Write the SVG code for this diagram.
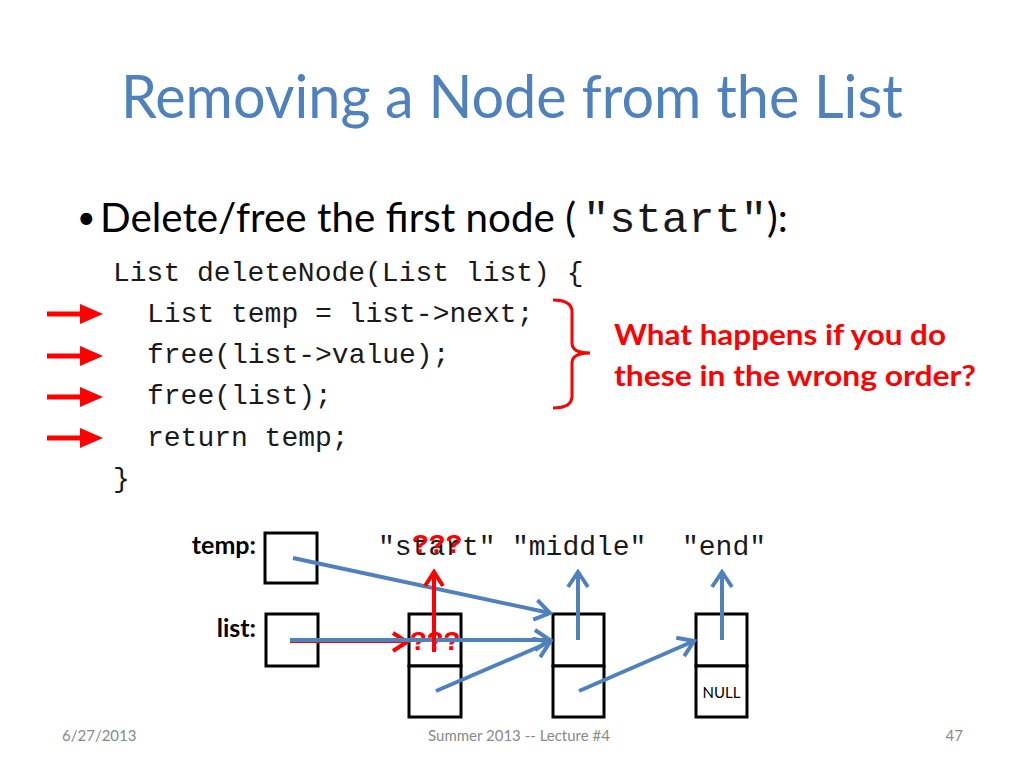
<svg xmlns="http://www.w3.org/2000/svg" width="1024" height="768" viewBox="0 0 1024 768">
<style>
.title{font-family:Lato,"Open Sans","Liberation Sans",sans-serif;font-size:60px;fill:#4F81BD}
.body{font-family:Lato,"Open Sans","Liberation Sans",sans-serif;font-size:40px;fill:#000}
.mono{font-family:"Liberation Mono","Courier New",monospace;fill:#1a1a1a}
.code{font-size:28px}
.red{font-family:Lato,"Open Sans","Liberation Sans",sans-serif;font-weight:bold;font-size:29px;fill:#FF0000}
.lbl{font-family:Lato,"Open Sans","Liberation Sans",sans-serif;font-weight:bold;font-size:25px;fill:#000}
.foot{font-family:Lato,"Open Sans","Liberation Sans",sans-serif;font-size:15px;fill:#898989}
.box{fill:#fff;stroke:#000;stroke-width:3}
.blue{stroke:#4F81BD;stroke-width:4;fill:none}
.rl{stroke:#FF0000;fill:none}
.q{font-family:"Liberation Mono","Courier New",monospace;font-weight:bold;font-size:28px;fill:#FF0000}
</style>
<defs>
<marker id="ab" markerUnits="userSpaceOnUse" markerWidth="40" markerHeight="40" viewBox="-20 -20 40 40" refX="0" refY="0" orient="auto" overflow="visible">
<path d="M-15,-10 L0,0 L-15,10" fill="none" stroke="#4F81BD" stroke-width="4"/>
</marker>
<marker id="ar" markerUnits="userSpaceOnUse" markerWidth="40" markerHeight="40" viewBox="-20 -20 40 40" refX="0" refY="0" orient="auto" overflow="visible">
<path d="M-14,-9 L0,0 L-14,9" fill="none" stroke="#FF0000" stroke-width="4"/>
</marker>
<path id="redArrowShape" d="M0,-2.5 L33,-2.5 L33,-10 L56,0 L33,10 L33,2.5 L0,2.5 Z"/>
</defs>
<rect width="1024" height="768" fill="#fff"/>

<g id="title">
<text class="title" x="512" y="118" text-anchor="middle" textLength="782" lengthAdjust="spacingAndGlyphs">Removing a Node from the List</text>
</g>

<g id="bullet">
<text x="77" y="229" font-family="Lato,'Open Sans','Liberation Sans',sans-serif" font-size="32" fill="#000">•</text>
<text class="body" x="100" y="232" textLength="476" lengthAdjust="spacingAndGlyphs">Delete/free the first node (</text>
<text class="mono" x="583" y="232" font-size="42" textLength="184" lengthAdjust="spacingAndGlyphs">"start"</text>
<text class="body" x="767" y="232">):</text>
</g>

<g id="code">
<text class="mono code" x="113" y="281">List deleteNode(List list) {</text>
<text class="mono code" x="147" y="322">List temp = list-&gt;next;</text>
<text class="mono code" x="147" y="363">free(list-&gt;value);</text>
<text class="mono code" x="147" y="404">free(list);</text>
<text class="mono code" x="147" y="446">return temp;</text>
<text class="mono code" x="113" y="487">}</text>
</g>

<g id="line-arrows" fill="#FF0000">
<use href="#redArrowShape" x="47" y="314"/>
<use href="#redArrowShape" x="47" y="356"/>
<use href="#redArrowShape" x="47" y="397"/>
<use href="#redArrowShape" x="47" y="438"/>
</g>

<g id="bracket">
<path d="M553,300 Q572,300 572,312 L572,343 Q572,353 590,353 Q572,353 572,363 L572,396 Q572,408 553,408" class="rl" stroke-width="3"/>
</g>

<g id="question">
<text class="red" x="614" y="345" textLength="332" lengthAdjust="spacingAndGlyphs">What happens if you do</text>
<text class="red" x="614" y="386" textLength="362" lengthAdjust="spacingAndGlyphs">these in the wrong order?</text>
</g>

<g id="values">
<text class="mono" x="378" y="555" font-size="28">"start"</text>
<text class="mono" x="512" y="555" font-size="28">"middle"</text>
<text class="mono" x="682" y="555" font-size="28">"end"</text>
<text class="q" x="412" y="553">???</text>
</g>

<g id="temp">
<text class="lbl" x="256" y="554" text-anchor="end">temp:</text>
<rect class="box" x="265" y="533" width="52" height="50"/>
</g>

<g id="list">
<text class="lbl" x="256" y="637" text-anchor="end">list:</text>
<rect class="box" x="266" y="614" width="52" height="52"/>
</g>

<g id="node-start">
<rect class="box" x="409" y="614" width="52" height="52"/>
<rect class="box" x="409" y="666" width="52" height="51"/>
<text class="q" x="410" y="650">???</text>
</g>

<g id="node-middle">
<rect class="box" x="553" y="614" width="51" height="52"/>
<rect class="box" x="553" y="666" width="51" height="51"/>
</g>

<g id="node-end">
<rect class="box" x="696" y="614" width="51" height="52"/>
<rect class="box" x="696" y="666" width="51" height="51"/>
<text x="721.5" y="698" text-anchor="middle" font-family="Lato,'Open Sans','Liberation Sans',sans-serif" font-size="15" fill="#000">NULL</text>
</g>

<g id="connectors">
<line x1="290" y1="642" x2="407" y2="642" class="rl" stroke-width="2" marker-end="url(#ar)"/>
<line x1="293" y1="558" x2="550" y2="613" class="blue" marker-end="url(#ab)"/>
<line x1="290" y1="640" x2="550" y2="640" class="blue" marker-end="url(#ab)"/>
<line x1="436" y1="691" x2="550" y2="642" class="blue" marker-end="url(#ab)"/>
<line x1="579" y1="691" x2="694" y2="641" class="blue" marker-end="url(#ab)"/>
<line x1="578" y1="640" x2="578" y2="572" class="blue" marker-end="url(#ab)"/>
<line x1="722" y1="640" x2="722" y2="572" class="blue" marker-end="url(#ab)"/>
<line x1="434" y1="652" x2="434" y2="572" class="rl" stroke-width="4" marker-end="url(#ar)"/>
</g>

<g id="footer">
<text class="foot" x="62" y="741">6/27/2013</text>
<text class="foot" x="519" y="741" text-anchor="middle">Summer 2013 -- Lecture #4</text>
<text class="foot" x="963" y="741" text-anchor="end">47</text>
</g>
</svg>
